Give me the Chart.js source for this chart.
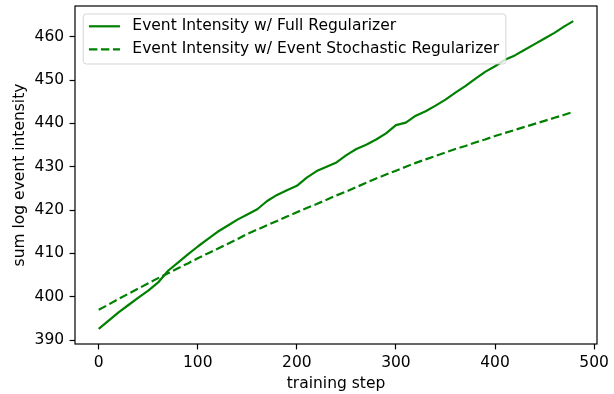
<!DOCTYPE html>
<html lang="en">
<head>
    <meta charset="UTF-8">
    <title>Event Intensity</title>
    <script src="https://cdn.jsdelivr.net/npm/chart.js"></script>
    <style>
        body {
            margin: 0;
            background: #fff;
        }
        #wrap {
            width: 614px;
            height: 394px;
        }
    </style>
</head>
<body>
    <div id="wrap"><canvas id="intensityChart" width="614" height="394"></canvas></div>

    <script>
        // values
        const steps = [0, 10, 20, 30, 40, 50, 60, 70, 80, 90, 100, 110, 120, 130, 140, 150, 160, 170, 180, 190,
            200, 210, 220, 230, 240, 250, 260, 270, 280, 290, 300, 310, 320, 330, 340, 350, 360, 370, 380, 390,
            400, 410, 420, 430, 440, 450, 460, 470, 479];
        const fullReg = [392.6, 394.5, 396.4, 398.1, 399.8, 401.4, 403.3, 406.0, 407.9, 409.8,
            411.6, 413.3, 415.0, 416.4, 417.8, 419.0, 420.2, 422.1, 423.5, 424.6,
            425.6, 427.5, 429.0, 430.0, 431.0, 432.7, 434.1, 435.1, 436.3, 437.7,
            439.6, 440.2, 441.8, 442.8, 444.1, 445.5, 447.1, 448.6, 450.3, 451.9,
            453.2, 454.7, 455.7, 457.0, 458.3, 459.6, 460.9, 462.4, 463.6];
        const stochReg = [397.0, 398.2, 399.5, 400.7, 401.9, 403.1, 404.3, 405.4, 406.6, 407.7,
            408.9, 410.0, 411.1, 412.2, 413.3, 414.5, 415.5, 416.5, 417.5, 418.5,
            419.5, 420.5, 421.4, 422.4, 423.4, 424.3, 425.3, 426.3, 427.3, 428.2,
            429.1, 430.0, 430.9, 431.7, 432.5, 433.3, 434.1, 434.8, 435.6, 436.3,
            437.1, 437.8, 438.5, 439.2, 439.9, 440.6, 441.3, 442.0, 442.7];
        const xTicks = [0, 100, 200, 300, 400, 500];
        const yTicks = [390, 400, 410, 420, 430, 440, 450, 460];

        const FONT = 'DejaVu Sans';
        const FS = 15.5;

        // keep the plot box where the reference has it
        function noScalePadding(scale) {
            scale.paddingTop = 0;
            scale.paddingBottom = 0;
            scale.paddingLeft = 0;
            scale.paddingRight = 0;
        }

        // matplotlib style frame + legend box drawn over the lines
        const frameAndLegend = {
            id: 'frameAndLegend',
            afterDatasetsDraw(chart) {
                const ctx = chart.ctx;
                const a = chart.chartArea;
                ctx.save();
                ctx.strokeStyle = '#000';
                ctx.lineWidth = 1.2;
                ctx.strokeRect(a.left, a.top, a.right - a.left, a.bottom - a.top);

                ctx.font = FS + 'px "' + FONT + '"';
                const textW = Math.max(...chart.data.datasets.map(d => ctx.measureText(d.label).width));
                const x0 = a.left + 7.75;
                const y0 = a.top + 7.5;
                const w = 6.2 + 31 + 12.4 + textW + 6.2;
                const h = 50;
                ctx.beginPath();
                ctx.roundRect(x0 + 0.5, y0 + 0.5, w, h, 3);
                ctx.fillStyle = 'rgba(255,255,255,0.8)';
                ctx.fill();
                ctx.strokeStyle = 'rgba(204,204,204,0.8)';
                ctx.lineWidth = 1;
                ctx.stroke();

                chart.data.datasets.forEach((d, i) => {
                    const cy = y0 + 12.8 + i * 23;
                    ctx.beginPath();
                    ctx.setLineDash(d.borderDash || []);
                    ctx.strokeStyle = d.borderColor;
                    ctx.lineWidth = d.borderWidth;
                    ctx.moveTo(x0 + 6.2, cy);
                    ctx.lineTo(x0 + 6.2 + 31, cy);
                    ctx.stroke();
                    ctx.setLineDash([]);
                    ctx.fillStyle = '#000';
                    ctx.textBaseline = 'middle';
                    ctx.fillText(d.label, x0 + 6.2 + 31 + 12.4, cy);
                });
                ctx.restore();
            }
        };

        const ctx = document.getElementById('intensityChart').getContext('2d');
        new Chart(ctx, {
            type: 'line',
            data: {
                labels: steps,
                datasets: [{
                    label: 'Event Intensity w/ Full Regularizer',
                    data: steps.map((s, i) => ({ x: s, y: fullReg[i] })),
                    borderColor: '#008000',
                    borderWidth: 2.2,
                    pointRadius: 0,
                    tension: 0,
                    borderJoinStyle: 'round'
                }, {
                    label: 'Event Intensity w/ Event Stochastic Regularizer',
                    data: steps.map((s, i) => ({ x: s, y: stochReg[i] })),
                    borderColor: '#008000',
                    borderWidth: 2.2,
                    borderDash: [8.4, 3.6],
                    pointRadius: 0,
                    tension: 0
                }]
            },
            options: {
                responsive: false,
                animation: false,
                devicePixelRatio: 1,
                layout: { padding: { left: 0, right: 17, top: 6, bottom: 0 } },
                plugins: {
                    legend: { display: false },
                    tooltip: { enabled: false }
                },
                scales: {
                    x: {
                        type: 'linear',
                        min: -23.95,
                        max: 502.95,
                        afterBuildTicks: scale => { scale.ticks = xTicks.map(v => ({ value: v })); },
                        afterFit: scale => { scale.height = 50; noScalePadding(scale); },
                        grid: { drawOnChartArea: false, drawTicks: true, tickLength: 5.4, tickWidth: 1.2, tickColor: '#000' },
                        border: { display: false },
                        ticks: { color: '#000', padding: 4, maxRotation: 0, font: { family: FONT, size: FS } },
                        title: {
                            display: true,
                            text: 'training step',
                            color: '#000',
                            padding: { top: 0, bottom: 1 },
                            font: { family: FONT, size: FS }
                        }
                    },
                    y: {
                        min: 389.1,
                        max: 467.1,
                        afterBuildTicks: scale => { scale.ticks = yTicks.map(v => ({ value: v })); },
                        afterFit: scale => { scale.width = 75; noScalePadding(scale); },
                        grid: { drawOnChartArea: false, drawTicks: true, tickLength: 5.4, tickWidth: 1.2, tickColor: '#000' },
                        border: { display: false },
                        ticks: { color: '#000', padding: 5.4, font: { family: FONT, size: FS } },
                        title: {
                            display: true,
                            text: 'sum log event intensity',
                            color: '#000',
                            padding: { top: 10.5, bottom: 0 },
                            font: { family: FONT, size: FS }
                        }
                    }
                }
            },
            plugins: [frameAndLegend]
        });
    </script>
</body>
</html>
